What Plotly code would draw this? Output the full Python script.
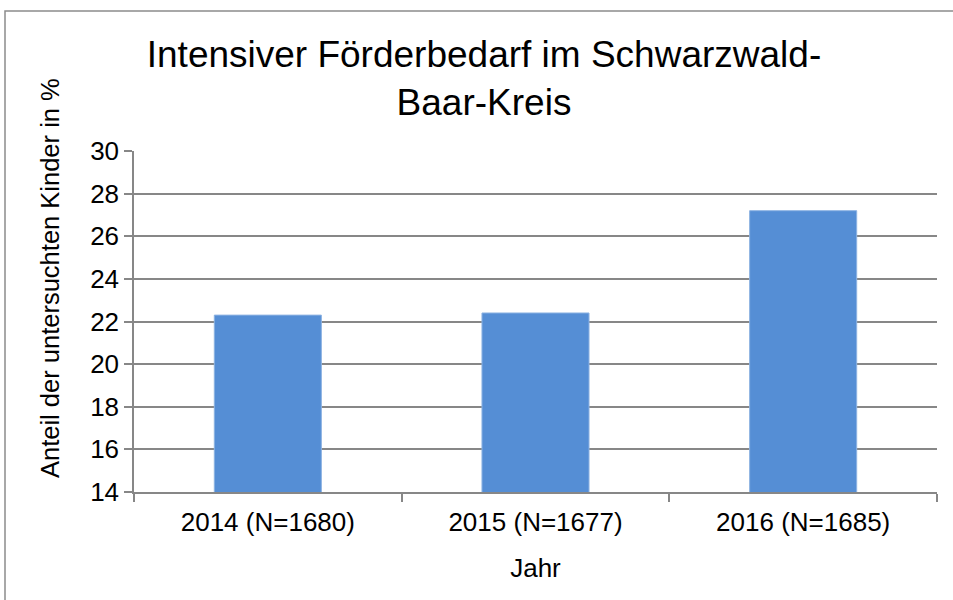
import plotly.graph_objects as go

categories = ["2014 (N=1680)", "2015 (N=1677)", "2016 (N=1685)"]
values = [22.3, 22.4, 27.2]
y_ticks = [14, 16, 18, 20, 22, 24, 26, 28, 30]

title_text = "Intensiver Förderbedarf im Schwarzwald-<br>Baar-Kreis"
x_title = "Jahr"
y_title = "Anteil der untersuchten Kinder in %"

FONT = "Liberation Sans, Arial, sans-serif"
GRID = "#878787"

W, H = 953, 600
ml, mr, mt, mb = 134, 16, 151, 108
pw, ph = W - ml - mr, H - mt - mb

def px_x(x):
    return (x - ml) / pw

def px_y(y):
    return 1 - (y - mt) / ph

fig = go.Figure()
fig.add_trace(go.Bar(
    x=categories, y=values,
    marker=dict(color="#558ED5", line=dict(color="#8DB3E2", width=1)),
    width=0.4,
))

fig.update_layout(
    width=W, height=H,
    margin=dict(l=ml, r=mr, t=mt, b=mb),
    paper_bgcolor="white", plot_bgcolor="white",
    font=dict(family=FONT, color="black"),
    showlegend=False,
    title=dict(text=title_text, x=484 / W, xanchor="center", xref="container",
               y=1 - 67 / H, yanchor="top", yref="container",
               font=dict(size=37, family=FONT, color="black")),
    xaxis=dict(
        showgrid=False, showline=True, linecolor=GRID, linewidth=1.5,
        ticks="outside", ticklen=8, tickcolor=GRID, tickwidth=1.5,
        tickson="boundaries", ticklabelstandoff=6,
        tickfont=dict(size=26, family=FONT, color="black"),
        title=dict(text=x_title, font=dict(size=26, family=FONT, color="black"), standoff=23),
    ),
    yaxis=dict(
        range=[14, 30], tickvals=y_ticks, ticktext=[str(v) for v in y_ticks],
        showgrid=True, gridcolor=GRID, gridwidth=1.5,
        showline=True, linecolor=GRID, linewidth=1.5,
        ticks="outside", ticklen=8, tickcolor=GRID, tickwidth=1.5,
        zeroline=False,
        tickfont=dict(size=26, family=FONT, color="black"),
    ),
)

fig.add_annotation(text=y_title, textangle=-90, showarrow=False,
                   xref="paper", yref="paper", x=px_x(50), y=px_y(278),
                   xanchor="center", yanchor="middle",
                   font=dict(size=25.5, family=FONT, color="black"))

fig.add_shape(type="rect", xref="paper", yref="paper",
              x0=px_x(5), x1=px_x(970), y0=px_y(620), y1=px_y(11),
              line=dict(color="#8C8C8C", width=1.5), fillcolor="rgba(0,0,0,0)", layer="below")

fig.write_html("out.html", config={"displayModeBar": False},
               post_script="document.body.style.margin='0';")
